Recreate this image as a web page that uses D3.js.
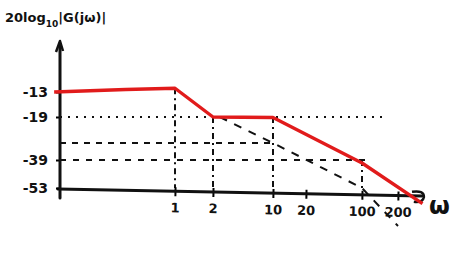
<!DOCTYPE html>
<html>
<head>
<meta charset="utf-8">
<script src="https://cdn.jsdelivr.net/npm/d3@7"></script>
<style>
  body { margin: 0; background: #fff; }
  text { font-family: "DejaVu Sans", sans-serif; fill: #111; }
</style>
</head>
<body>
<div id="graph"></div>
<script>
// magnitude values (dB) and frequencies (rad/s)
const dbTicks = [-13, -19, -39, -53];
const freqTicks = [1, 2, 10, 20, 100, 200];

// red asymptotic magnitude curve
const bodeW = [0.052, 0.3, 1, 2, 10, 100, 340];
const bodeDb = [-13, -12.4, -12.1, -19, -19.3, -40.5, -60];

// helper construction lines
const hGuides = [
    { db: -19, from: 0.06, to: 156, dash: "2,6" },
    { db: -33, from: 0.06, to: 10.5, dash: "6,6" },
    { db: -39, from: 0.06, to: 108, dash: "6,7" }
];
const vGuides = [
    { w: 1, top: -12.1 },
    { w: 2, top: -19 },
    { w: 10, top: -19 },
    { w: 100, top: -39 }
];
// -20 dB/dec extension of first break
const asymW = [2.4, 10, 100, 200];
const asymDb = [-19, -33, -53, -70];

const svg = d3.select("#graph")
    .append("svg")
    .attr("width", 474)
    .attr("height", 264);

// hand drawn axis spacing, so piecewise scales
const x = d3.scaleLog()
    .domain([0.06, 1, 2, 10, 20, 100, 200, 400])
    .range([60, 175, 213, 273, 306, 362, 398, 430]);
const y = d3.scaleLinear()
    .domain([-70, -53, -39, -33, -19, -13])
    .range([226, 188, 160, 143, 117, 92]);

// guides
hGuides.forEach(g => {
    svg.append("line")
        .attr("x1", x(g.from)).attr("x2", x(g.to))
        .attr("y1", y(g.db)).attr("y2", y(g.db))
        .attr("stroke", "#111").attr("stroke-width", 2)
        .attr("stroke-dasharray", g.dash);
});
vGuides.forEach(g => {
    svg.append("line")
        .attr("x1", x(g.w)).attr("x2", x(g.w))
        .attr("y1", y(g.top)).attr("y2", y(-53))
        .attr("stroke", "#111").attr("stroke-width", 2)
        .attr("stroke-dasharray", "6,4,2,4");
});
svg.append("path")
    .datum(asymW.map((w, i) => [w, asymDb[i]]))
    .attr("fill", "none")
    .attr("stroke", "#111").attr("stroke-width", 2)
    .attr("stroke-dasharray", "8,8")
    .attr("d", d3.line().x(d => x(d[0])).y(d => y(d[1])));

// x axis
const xAxis = svg.append("g")
    .attr("transform", `translate(0,${y(-53) + 1}) rotate(1.1,60,0)`)
    .call(d3.axisBottom(x).tickValues(freqTicks).tickSize(5).tickFormat(d3.format("d")));
xAxis.select(".domain").remove();
xAxis.selectAll(".tick line").attr("y1", -4).attr("stroke-width", 2);
xAxis.selectAll(".tick text").attr("y", 12).style("font-size", "13px").style("font-weight", "bold");
xAxis.append("line")
    .attr("x1", 58).attr("x2", 422)
    .attr("stroke", "#111").attr("stroke-width", 3).attr("stroke-linecap", "round");
xAxis.append("path")
    .attr("d", "M412,-4 Q424,-6 424,1 Q423,7 414,6")
    .attr("fill", "none").attr("stroke", "#111").attr("stroke-width", 2.5);

// y axis
const yAxis = svg.append("g")
    .attr("transform", "translate(60,0)")
    .call(d3.axisLeft(y).tickValues(dbTicks).tickSize(4).tickFormat(d => "-" + Math.abs(d)));
yAxis.select(".domain").remove();
yAxis.selectAll(".tick line").attr("stroke-width", 2);
yAxis.selectAll(".tick text").attr("x", -12).style("font-size", "14px").style("font-weight", "bold");
yAxis.append("line")
    .attr("y1", 44).attr("y2", 198)
    .attr("stroke", "#111").attr("stroke-width", 3).attr("stroke-linecap", "round");
yAxis.append("path")
    .attr("d", "M-4,52 L0,41 L3,51")
    .attr("fill", "none").attr("stroke", "#111").attr("stroke-width", 2.5)
    .attr("stroke-linejoin", "round");

// magnitude curve
svg.append("path")
    .datum(bodeW.map((w, i) => [w, bodeDb[i]]))
    .attr("fill", "none")
    .attr("stroke", "#e11b1b")
    .attr("stroke-width", 3.4)
    .attr("stroke-linejoin", "round")
    .attr("d", d3.line().x(d => x(d[0])).y(d => y(d[1])));

// labels
const title = svg.append("text")
    .attr("x", 5).attr("y", 22)
    .style("font-size", "13px").style("font-weight", "bold");
title.append("tspan").text("20log");
title.append("tspan").attr("dy", 5).style("font-size", "9px").text("10");
title.append("tspan").attr("dy", -5).text("|G(jω)|");

svg.append("text")
    .attr("x", 429).attr("y", 214)
    .style("font-size", "24px").style("font-weight", "bold")
    .text("ω");
</script>
</body>
</html>
